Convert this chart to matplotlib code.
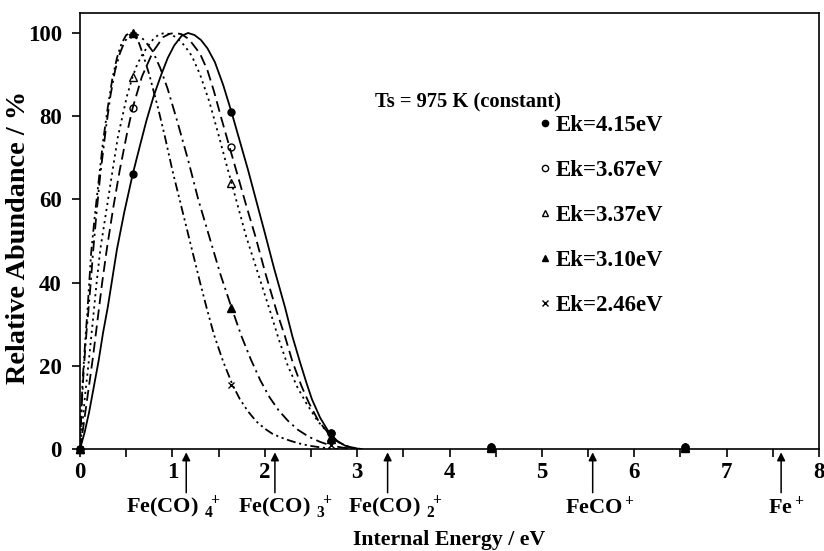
import matplotlib
matplotlib.use("Agg")
import matplotlib.pyplot as plt
from matplotlib.lines import Line2D

plt.rcParams['font.family'] = ['Liberation Serif', 'DejaVu Serif']
plt.rcParams['font.weight'] = 'bold'
plt.rcParams['mathtext.fontset'] = 'custom'
plt.rcParams['mathtext.rm'] = 'Liberation Serif:bold'
plt.rcParams['mathtext.it'] = 'Liberation Serif:bold'
plt.rcParams['mathtext.bf'] = 'Liberation Serif:bold'

# ---------------- data ----------------
labels = ["Ek=4.15eV", "Ek=3.67eV", "Ek=3.37eV", "Ek=3.10eV", "Ek=2.46eV"]

# fitted curves
c415_x = [0, 0.05, 0.10, 0.15, 0.20, 0.25, 0.30, 0.35, 0.40, 0.48, 0.57, 0.65, 0.72, 0.80, 0.88, 0.95, 1.02, 1.10, 1.17,
          1.24, 1.31, 1.38, 1.46, 1.55, 1.64, 1.73, 1.82, 1.91, 2.00, 2.10, 2.22, 2.30, 2.38, 2.45, 2.51, 2.60, 2.69,
          2.78, 2.87, 2.95, 3.05]
c415_y = [0, 4, 9, 15, 21, 28, 34, 41, 48, 57, 66, 73, 79, 85, 90, 94, 97, 99.3, 100,
          99.5, 98.3, 96.3, 93, 87.5, 81, 74, 67, 59.5, 52, 43.5, 34, 27, 21, 16, 12, 7.5, 4.2,
          2.0, 0.8, 0.2, 0]

c367_x = [0, 0.04, 0.09, 0.14, 0.19, 0.24, 0.29, 0.36, 0.43, 0.51, 0.57, 0.67, 0.79, 0.90, 0.97, 1.03, 1.10, 1.18,
          1.30, 1.38, 1.45, 1.53, 1.62, 1.71, 1.80, 1.90, 2.01, 2.13, 2.22, 2.30, 2.40, 2.48, 2.58, 2.70, 2.80, 2.90,
          3.00, 3.05]
c367_y = [0, 6, 14, 22, 31, 40, 48, 58, 67, 76, 82, 89.5, 95.5, 99, 99.8, 100, 99.7, 98.5,
          95, 91, 86, 79.5, 72.5, 65.5, 58.5, 51, 42, 33, 27, 21, 15, 11, 6.8, 3.5, 1.6, 0.6,
          0.1, 0]

c337_x = [0, 0.03, 0.06, 0.09, 0.14, 0.18, 0.22, 0.29, 0.36, 0.41, 0.46, 0.51, 0.57, 0.62, 0.68, 0.74, 0.80, 0.86,
          0.92, 0.99, 1.05, 1.13, 1.21, 1.30, 1.40, 1.50, 1.59, 1.64, 1.72, 1.80, 1.93, 2.06, 2.15, 2.25, 2.35, 2.45,
          2.57, 2.70, 2.80, 2.90, 3.00, 3.05]
c337_y = [0, 7, 14, 20, 31, 40, 48, 58, 68, 75, 80, 85, 89.5, 92.5, 95, 97, 98.7, 99.7,
          100, 99.6, 98.8, 97, 94.5, 90, 83.5, 75.5, 68, 64, 57.5, 51, 42, 33, 26.5, 20, 15, 11,
          6.8, 3.5, 1.6, 0.6, 0.1, 0]

c310_x = [0, 0.01, 0.02, 0.035, 0.05, 0.07, 0.09, 0.12, 0.14, 0.18, 0.22, 0.28, 0.33, 0.38, 0.43, 0.48, 0.53, 0.58,
          0.63, 0.70, 0.79, 0.87, 0.95, 1.05, 1.17, 1.28, 1.40, 1.52, 1.64, 1.75, 1.85, 1.95, 2.05, 2.15, 2.25, 2.36,
          2.48, 2.60, 2.72, 2.85, 3.00]
c310_y = [0, 6, 11, 17, 22, 28, 33, 41, 47, 57, 66, 77, 85, 91, 95, 97.8, 99.4, 100,
          99.5, 98.2, 95.5, 91.5, 86.5, 79, 69.5, 60, 51, 42, 34, 27, 21.5, 16.6, 12.5, 9.3, 6.8, 4.6,
          2.9, 1.7, 0.8, 0.3, 0]

c246_x = [0, 0.01, 0.02, 0.03, 0.045, 0.06, 0.08, 0.10, 0.12, 0.16, 0.20, 0.25, 0.30, 0.35, 0.40, 0.45, 0.50, 0.55,
          0.60, 0.64, 0.68, 0.75, 0.85, 0.92, 1.00, 1.10, 1.20, 1.30, 1.37, 1.45, 1.55, 1.65, 1.73, 1.82, 1.91, 2.00,
          2.08, 2.16, 2.26, 2.36, 2.48, 2.60, 2.72, 2.80]
c246_y = [0, 7, 12, 17, 22, 27, 33, 40, 47, 56, 64, 74, 82, 89, 94, 97.5, 99.5, 100,
          99.2, 97.5, 95, 90, 81.5, 75, 67, 58, 49, 40, 34, 27.5, 21, 15.5, 12, 9, 6.6, 4.9,
          3.7, 2.9, 2.1, 1.4, 0.8, 0.4, 0.1, 0]

# measured points
pts_x = [0, 0.57, 1.64, 2.72, 4.45, 6.55]
p415 = [0, 66, 81, 3.8, 0.6, 0.6]
p367 = [0, 82, 72.5, 3.8, 0.6, 0.6]
p337 = [0, 89.5, 64, 3.0, 0.5, 0.5]
p310 = [0, 100, 34, 2.5, 0.3, 0.3]
p246 = [0, 99.5, 15.5, 1.0, 0.1, 0.1]

# fragment-ion appearance energies
ion_names = [r"Fe(CO)$\ _4^{\ +}$", r"Fe(CO)$\ _3^{\ +}$", r"Fe(CO)$\ _2^{\ +}$", r"FeCO$^+$", r"Fe$^+$"]
ion_x = [1.15, 2.11, 3.33, 5.55, 7.59]

x_ticks = [0, 1, 2, 3, 4, 5, 6, 7, 8]
y_ticks = [0, 20, 40, 60, 80, 100]

# ---------------- layout (not data) ----------------
ion_label_x = [1.01, 2.23, 3.42, 5.63, 7.64]

fig = plt.figure(figsize=(8.24, 5.51), dpi=100)
ax = fig.add_axes([80/824, 1-449/551, (819-80)/824, (449-13)/551])

curves = [(c415_x, c415_y, '-'), (c367_x, c367_y, (0, (6, 3))),
          (c337_x, c337_y, (0, (1.2, 2.2))), (c310_x, c310_y, (0, (6, 2.5, 1.2, 2.5))),
          (c246_x, c246_y, (0, (5, 2, 1.2, 2, 1.2, 2)))]
for cx, cy, ls in curves:
    ax.plot(cx, cy, color='k', lw=1.3, linestyle=ls)

marker_specs = [('o', 'k', 5), ('o', 'none', 5), ('^', 'none', 5.5), ('^', 'k', 5.5), ('x', 'k', 5)]
handles = []
for pv, (m, fc, ms), lab in zip([p415, p367, p337, p310, p246], marker_specs, labels):
    ax.plot(pts_x, pv, linestyle='none', marker=m, markerfacecolor=fc,
            markeredgecolor='k', markersize=ms, markeredgewidth=1.0, clip_on=False, zorder=5)
    handles.append(Line2D([], [], linestyle='none', marker=m, markerfacecolor=fc,
                          markeredgecolor='k', markersize=ms - 0.5, markeredgewidth=1.0, label=lab))

ax.set_xlim(0, 8)
ax.set_ylim(0, 104.8)
ax.set_xticks(x_ticks)
ax.set_xticks([v + 0.5 for v in x_ticks[:-1]], minor=True)
ax.set_yticks(y_ticks)
ax.tick_params(axis='both', which='both', direction='out', labelsize=16.5, width=1.2,
               top=False, right=False)
ax.tick_params(axis='x', which='major', length=6, pad=3)
ax.tick_params(axis='x', which='minor', length=6)
ax.tick_params(axis='y', which='major', length=6, pad=7)
for lab in ax.get_xticklabels() + ax.get_yticklabels():
    lab.set_fontweight('bold')
for s in ax.spines.values():
    s.set_linewidth(1.2)

ax.set_xlabel("Internal Energy / eV", fontsize=15.7, fontweight='bold', va='top')
ax.xaxis.set_label_coords(0.5, (449 - 530) / 436)
ax.set_ylabel("Relative Abundance / %", fontsize=20.3, fontweight='bold')
ax.yaxis.set_label_coords((31 - 80) / 739, 0.486)

ax.text(3.19, 83.3, "Ts = 975 K (constant)", fontsize=14.8, fontweight='bold', va='center', ha='left')

leg = ax.legend(handles=handles, loc='upper left', bbox_to_anchor=(0.62, 0.767),
                frameon=False, labelspacing=1.05, handlelength=0.6,
                handletextpad=0.15, borderpad=0, borderaxespad=0,
                prop={'weight': 'bold', 'size': 16.5})

for xi, lx, name in zip(ion_x, ion_label_x, ion_names):
    ax.annotate("", xy=(xi, -0.8), xytext=(xi, -10.5), annotation_clip=False,
                arrowprops=dict(arrowstyle='-|>', color='k', lw=1.1, mutation_scale=12,
                                shrinkA=0, shrinkB=0))
    ax.text(lx, -15.4, name, fontsize=16, fontweight='bold', ha='center', va='baseline',
            clip_on=False)

fig.savefig("out.png", dpi=100)
